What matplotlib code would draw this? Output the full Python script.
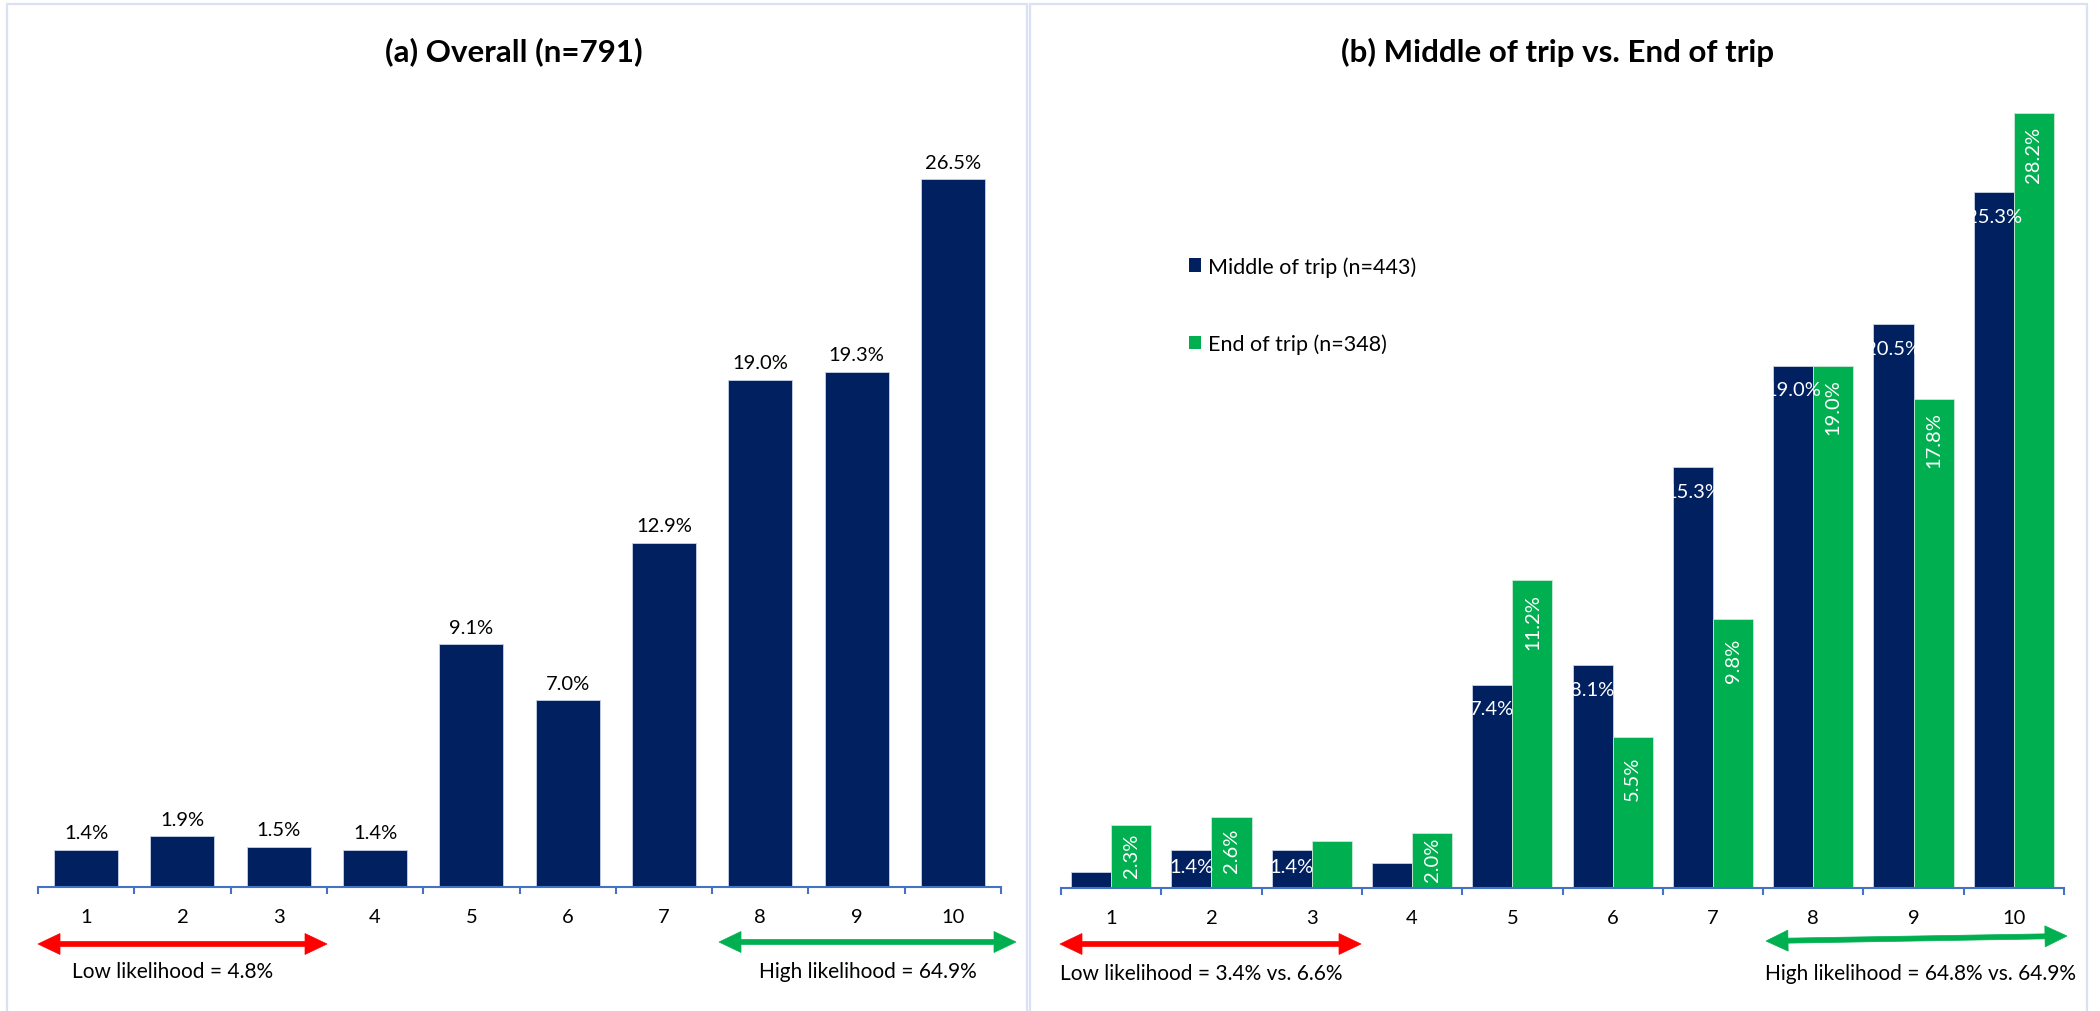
import matplotlib
matplotlib.use("Agg")
import matplotlib.pyplot as plt
from matplotlib.patches import Polygon, Rectangle, Patch
import numpy as np

plt.rcParams['font.family'] = ['Lato', 'DejaVu Sans']

# ---- data -------------------------------------------------------------
scores = ["1", "2", "3", "4", "5", "6", "7", "8", "9", "10"]
overall = [1.4, 1.9, 1.5, 1.4, 9.1, 7.0, 12.9, 19.0, 19.3, 26.5]
middle = [0.6, 1.4, 1.4, 0.9, 7.4, 8.1, 15.3, 19.0, 20.5, 25.3]
end = [2.3, 2.6, 1.7, 2.0, 11.2, 5.5, 9.8, 19.0, 17.8, 28.2]
middle_show = [False, True, True, False, True, True, True, True, True, True]
end_show = [True, True, False, True, True, True, True, True, True, True]

title_a = "(a) Overall (n=791)"
title_b = "(b) Middle of trip vs. End of trip"
legend_labels = ["Middle of trip (n=443)", "End of trip (n=348)"]
low_a = "Low likelihood = 4.8%"
high_a = "High likelihood = 64.9%"
low_b = "Low likelihood = 3.4% vs. 6.6%"
high_b = "High likelihood = 64.8% vs. 64.9%"

NAVY = "#002060"
GREEN = "#00B050"
AXIS = "#4472C4"
FRAME = "#D9E1F2"
RED = "#FF0000"

FS = 14.5        # tick / value labels
FS_NOTE = 15     # likelihood notes
FS_LEG = 15.5    # legend
FS_TITLE = 22.5  # panel titles

W, H = 2100, 1012
fig = plt.figure(figsize=(W / 100, H / 100), dpi=100)
fig.patch.set_facecolor("white")


def fx(px):
    return px / W


def fy(py):
    # pixel row measured from the top -> figure fraction
    return 1 - py / H


# panel frames
for x0, x1 in [(7, 1027), (1030, 2087)]:
    fig.add_artist(Rectangle((fx(x0), fy(1030)), fx(x1 - x0), (1030 - 5) / H,
                             transform=fig.transFigure, fill=False,
                             edgecolor=FRAME, linewidth=1.6))

x = np.arange(1, len(scores) + 1)


def style_axis(ax):
    ax.set_xlim(0.5, 10.5)
    ax.set_ylim(0, 30)
    for s in ["top", "right", "left"]:
        ax.spines[s].set_visible(False)
    ax.spines["bottom"].set_color(AXIS)
    ax.spines["bottom"].set_linewidth(1.5)
    ax.set_yticks([])
    ax.set_xticks(x)
    ax.set_xticklabels(scores, fontsize=FS)
    ax.set_xticks(np.arange(0.5, 11, 1), minor=True)
    ax.tick_params(axis="x", which="major", length=0, pad=15)
    ax.tick_params(axis="x", which="minor", length=5, width=1.5,
                   color=AXIS, direction="out")
    ax.patch.set_alpha(0)


def px_per_unit(ax):
    bb = ax.get_position()
    lo, hi = ax.get_ylim()
    return bb.height * H / (hi - lo)


def double_arrow(p1, p2, color, shaft=5.0, head_w=21.0, head_l=22.0):
    (x1, y1), (x2, y2) = p1, p2
    # work in pixel space with y pointing up
    a = np.array([x1, H - y1], float)
    b = np.array([x2, H - y2], float)
    d = b - a
    L = np.hypot(*d)
    u = d / L
    n = np.array([-u[1], u[0]])
    pts = [
        a,
        a + u * head_l + n * head_w / 2,
        a + u * head_l + n * shaft / 2,
        b - u * head_l + n * shaft / 2,
        b - u * head_l + n * head_w / 2,
        b,
        b - u * head_l - n * head_w / 2,
        b - u * head_l - n * shaft / 2,
        a + u * head_l - n * shaft / 2,
        a + u * head_l - n * head_w / 2,
    ]
    pts = np.array(pts) / np.array([W, H])
    fig.add_artist(Polygon(pts, closed=True, transform=fig.transFigure,
                           facecolor=color, edgecolor=color, linewidth=0.5))


# ---- (a) overall ------------------------------------------------------
ax1 = fig.add_axes([fx(38), (H - 888) / H, fx(1001 - 38), 30 * 26.7 / H])
style_axis(ax1)
bars = ax1.bar(x, overall, width=0.665, color=NAVY, edgecolor="#C9D3E6",
               linewidth=0.6)
for rect, v in zip(bars, overall):
    ax1.annotate(f"{v:.1f}%", (rect.get_x() + rect.get_width() / 2, v),
                 xytext=(0, 17), textcoords="offset pixels",
                 ha="center", va="center", fontsize=FS, color="black")
fig.text(fx(514), fy(52), title_a, ha="center", va="center",
         fontsize=FS_TITLE, fontweight="bold")

double_arrow((38, 945), (327, 945), RED)
double_arrow((719, 943), (1016, 943), GREEN)
fig.text(fx(173), fy(972), low_a, ha="center", va="center", fontsize=FS_NOTE)
fig.text(fx(868), fy(972), high_a, ha="center", va="center", fontsize=FS_NOTE)

# ---- (b) middle vs end ------------------------------------------------
ax2 = fig.add_axes([fx(1061), (H - 889) / H, fx(2064 - 1061), 30 * 27.5 / H])
style_axis(ax2)
bw = 0.4
b_mid = ax2.bar(x - bw / 2, middle, width=bw, color=NAVY,
                edgecolor="#C9D3E6", linewidth=0.6, label=legend_labels[0])
b_end = ax2.bar(x + bw / 2, end, width=bw, color=GREEN,
                edgecolor="#C9EBD6", linewidth=0.6, label=legend_labels[1])

ppu = px_per_unit(ax2)
for rect, v, show in zip(b_mid, middle, middle_show):
    if not show:
        continue
    top_px = v * ppu
    yc = max(top_px - 24, 21) / ppu
    ax2.text(rect.get_x() + rect.get_width() / 2, yc, f"{v:.1f}%",
             ha="center", va="center", fontsize=FS, color="white")
for rect, v, show in zip(b_end, end, end_show):
    if not show:
        continue
    top_px = v * ppu
    yc = max(top_px - 41, top_px / 2 + 2) / ppu
    ax2.text(rect.get_x() + rect.get_width() / 2, yc, f"{v:.1f}%",
             ha="center", va="center", rotation=90, fontsize=FS,
             color="white")

ax2.legend(handles=[Patch(facecolor=NAVY), Patch(facecolor=GREEN)],
           labels=legend_labels, loc="upper left",
           bbox_to_anchor=(fx(1189), fy(257)), bbox_transform=fig.transFigure,
           frameon=False, fontsize=FS_LEG, handlelength=0.56, handleheight=0.56,
           handletextpad=0.3, labelspacing=2.65, borderpad=0, borderaxespad=0)

fig.text(fx(1558), fy(52), title_b, ha="center", va="center",
         fontsize=FS_TITLE, fontweight="bold")

double_arrow((1060, 945), (1361, 945), RED)
double_arrow((1766, 942), (2067, 937), GREEN)
fig.text(fx(1060), fy(974), low_b, ha="left", va="center", fontsize=FS_NOTE)
fig.text(fx(2076), fy(974), high_b, ha="right", va="center", fontsize=FS_NOTE)

fig.savefig("out.png", dpi=100, facecolor="white")
